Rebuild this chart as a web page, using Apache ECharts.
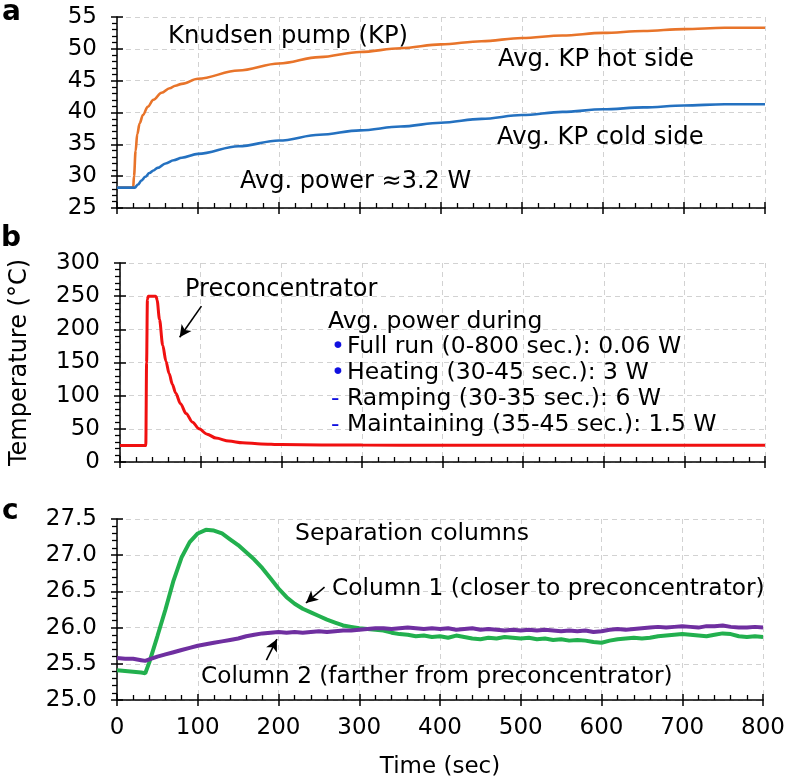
<!DOCTYPE html>
<html>
<head>
<meta charset="utf-8">
<script src="https://cdn.jsdelivr.net/npm/echarts@6/dist/echarts.min.js"></script>
<style>
html,body{margin:0;padding:0;background:#fff;}
#chart{width:788px;height:784px;}
</style>
</head>
<body>
<div id="chart"></div>
<script>
// ---- Panel a: Knudsen pump ----
var hotT  = [0,20,21,23,25,28,32,38,45,55,65,72,80,100,150,200,250,300,350,400,450,500,550,600,650,700,750,800];
var hotV  = [28.2,28.2,30.0,34.0,36.6,38.3,39.6,40.9,42.0,43.1,43.8,44.2,44.5,45.3,46.6,47.7,48.7,49.5,50.1,50.7,51.2,51.7,52.1,52.5,52.8,53.1,53.3,53.3];
var coldT = [0,22,26,30,35,40,45,50,60,70,80,100,150,200,250,300,350,400,450,500,550,600,650,700,750,800];
var coldV = [28.2,28.2,28.7,29.3,29.9,30.5,30.9,31.3,32.0,32.5,32.9,33.5,34.7,35.6,36.5,37.2,37.8,38.4,39.0,39.6,40.1,40.5,40.8,41.1,41.3,41.3];

// ---- Panel b: Preconcentrator ----
var pcT = [0,32,33,34,35,44,45,46,49,53,57,61,65,69,75,82,90,98,108,119,135,152,175,200,250,300,400,500,600,700,800];
var pcV = [25,25,150,245,250,250,249,244,215,176,152,133,117,104,88,73,60,50,42,36,31.5,29,27.3,26.4,25.8,25.5,25.3,25.2,25.2,25.2,25.2];

// ---- Panel c: Separation columns ----
var cT = [0,10,20,30,35,40,50,60,70,80,90,100,110,120,130,140,150,160,170,180,190,200,210,220,230,240,250,260,270,280,290,300,310,320,330,340,350,360,370,380,390,400,410,420,430,440,450,460,470,480,490,500,510,520,530,540,550,560,570,580,590,600,610,620,630,640,650,660,670,680,690,700,710,720,730,740,750,760,770,780,790,800];
var col1 = [25.41,25.40,25.39,25.38,25.37,25.52,25.88,26.25,26.65,26.97,27.18,27.30,27.35,27.34,27.30,27.22,27.14,27.04,26.94,26.82,26.68,26.54,26.42,26.33,26.26,26.21,26.16,26.11,26.07,26.03,26.01,25.99,25.98,25.97,25.96,25.93,25.91,25.90,25.88,25.89,25.87,25.88,25.86,25.89,25.87,25.85,25.84,25.86,25.85,25.87,25.86,25.85,25.86,25.84,25.85,25.83,25.84,25.82,25.83,25.82,25.80,25.79,25.82,25.84,25.85,25.86,25.85,25.86,25.88,25.89,25.90,25.91,25.90,25.89,25.88,25.90,25.92,25.91,25.88,25.87,25.88,25.87];
var col2 = [25.58,25.57,25.57,25.55,25.54,25.56,25.60,25.63,25.66,25.69,25.72,25.75,25.77,25.79,25.81,25.83,25.85,25.88,25.90,25.92,25.93,25.94,25.93,25.94,25.93,25.94,25.95,25.94,25.95,25.96,25.96,25.97,25.98,25.99,25.99,25.98,25.99,26.00,25.99,25.98,25.99,25.98,25.99,25.97,25.98,25.99,25.97,25.98,25.97,25.96,25.97,25.96,25.97,25.96,25.97,25.96,25.95,25.96,25.95,25.96,25.94,25.95,25.97,25.98,25.97,25.98,25.99,26.00,26.01,26.00,26.01,26.02,26.01,26.00,26.02,26.02,26.03,26.01,26.00,26.00,26.01,26.00];

// ---- Axes ----
var xTicks = {min:0, max:800, interval:100};
var yRanges = [
  {min:25, max:55, interval:5, dec:0},
  {min:0, max:300, interval:50, dec:0},
  {min:25, max:27.5, interval:0.5, dec:1}
];

var FONT = 'DejaVu Sans';
var FS = 23;

function pairs(t, v){ return t.map(function(x,i){ return [x, v[i]]; }); }

var grids = [
  {left:117, top:17, width:648, height:191},
  {left:117, top:263, width:648, height:199},
  {left:117, top:519, width:648, height:181}
];

var xAxes = [], yAxes = [];
var blk = {color:'#000', width:1.5};
grids.forEach(function(g, gi){
  xAxes.push({
    type:'value', gridIndex:gi, min:xTicks.min, max:xTicks.max, interval:xTicks.interval, position:'bottom',
    axisLine:{show:true, onZero:false, lineStyle:blk},
    axisTick:{show:true, inside:true, length:6, lineStyle:blk},
    minorTick:{show:true, splitNumber:5, length:5, lineStyle:{color:'#000', width:1.3}},
    splitLine:{show:true, lineStyle:{color:'#d2d2d2', type:[5,4], width:1}},
    axisLabel:{show: gi===2, color:'#000', fontSize:FS, fontFamily:FONT, margin:17},
    name: gi===2 ? 'Time (sec)' : '', nameLocation:'middle', nameGap:56,
    nameTextStyle:{color:'#000', fontSize:FS, fontFamily:FONT}
  });
  xAxes.push({
    type:'value', gridIndex:gi, min:xTicks.min, max:xTicks.max, interval:xTicks.interval, position:'bottom',
    axisLine:{show:false, onZero:false}, axisTick:{show:true, inside:false, length:6, lineStyle:blk},
    axisLabel:{show:false}, splitLine:{show:false}
  });
  var r = yRanges[gi];
  yAxes.push({
    type:'value', gridIndex:gi, min:r.min, max:r.max, interval:r.interval, position:'left',
    axisLine:{show:true, onZero:false, lineStyle:blk},
    axisTick:{show:true, inside:false, length:6, lineStyle:blk},
    minorTick:{show:true, splitNumber:5, length:5, lineStyle:{color:'#000', width:1.3}},
    splitLine:{show:true, lineStyle:{color:'#d2d2d2', type:[5,4], width:1}},
    axisLabel:{color:'#000', fontSize:FS, fontFamily:FONT, margin:20,
      formatter:(function(d){ return function(v){ return v.toFixed(d); }; })(r.dec)},
    name: gi===1 ? 'Temperature (°C)' : '', nameLocation:'middle', nameRotate:90, nameGap:88,
    nameTextStyle:{color:'#000', fontSize:24, fontFamily:FONT}
  });
  yAxes.push({
    type:'value', gridIndex:gi, min:r.min, max:r.max, interval:r.interval, position:'left',
    axisLine:{show:false, onZero:false}, axisTick:{show:true, inside:true, length:6, lineStyle:blk},
    axisLabel:{show:false}, splitLine:{show:false}
  });
});

function arrow(a, b){
  return {
    silent:true, animation:false, symbol:['none','arrow'], symbolSize:[9,12],
    label:{show:false}, lineStyle:{color:'#000', width:1.6, type:'solid'},
    emphasis:{disabled:true},
    data:[[{coord:a},{coord:b}]]
  };
}

var series = [
  {type:'line', name:'Avg. KP hot side', xAxisIndex:0, yAxisIndex:0, data:pairs(hotT, hotV),
   showSymbol:false, smooth:0.35, smoothMonotone:'x', lineStyle:{color:'#E8742A', width:2.6}, itemStyle:{color:'#E8742A'}},
  {type:'line', name:'Avg. KP cold side', xAxisIndex:0, yAxisIndex:0, data:pairs(coldT, coldV),
   showSymbol:false, smooth:0.35, smoothMonotone:'x', lineStyle:{color:'#2471C0', width:2.6}, itemStyle:{color:'#2471C0'}},
  {type:'line', name:'Preconcentrator', xAxisIndex:2, yAxisIndex:2, data:pairs(pcT, pcV),
   showSymbol:false, smooth:0.3, smoothMonotone:'x', lineStyle:{color:'#F01010', width:3}, itemStyle:{color:'#F01010'},
   markLine: arrow([101,235],[74,188])},
  {type:'line', name:'Column 1', xAxisIndex:4, yAxisIndex:4, data:pairs(cT, col1),
   showSymbol:false, lineStyle:{color:'#22B04E', width:4}, itemStyle:{color:'#22B04E'},
   markLine: arrow([257,26.56],[234,26.34])},
  {type:'line', name:'Column 2', xAxisIndex:4, yAxisIndex:4, data:pairs(cT, col2),
   showSymbol:false, lineStyle:{color:'#6F2FA0', width:4}, itemStyle:{color:'#6F2FA0'},
   markLine: arrow([185,25.55],[198,25.84])}
];

function txt(s, x, y, opts){
  opts = opts || {};
  return {type:'text', z:100, silent:true,
    style:{text:s, x:x, y:y, fill:opts.fill||'#000', fontSize:opts.size||23.5, fontFamily:FONT,
      fontWeight:opts.weight||'normal', verticalAlign:'middle', align:'left'}};
}

var graphics = [
  txt('a', 2, 12.5, {size:28, weight:'bold'}),
  txt('b', 1, 238.5, {size:28, weight:'bold'}),
  txt('c', 2, 511.5, {size:28, weight:'bold'}),
  txt('Knudsen pump (KP)', 168, 37, {size:24.3}),
  txt('Avg. KP hot side', 498, 60, {size:24.3}),
  txt('Avg. KP cold side', 497, 138, {size:24.3}),
  txt('Avg. power ≈3.2 W', 240, 182, {size:24}),
  txt('Preconcentrator', 185, 290, {size:24}),
  txt('Avg. power during', 328, 322),
  txt('•', 331, 347, {fill:'#1010E0'}),
  txt('Full run (0-800 sec.): 0.06 W', 347, 347),
  txt('•', 331, 373, {fill:'#1010E0'}),
  txt('Heating (30-45 sec.): 3 W', 347, 373),
  txt('-', 331, 399, {fill:'#1010E0'}),
  txt('Ramping (30-35 sec.): 6 W', 347, 399),
  txt('-', 331, 425, {fill:'#1010E0'}),
  txt('Maintaining (35-45 sec.): 1.5 W', 347, 425),
  txt('Separation columns', 295, 534),
  txt('Column 1 (closer to preconcentrator)', 332, 589, {size:23.3}),
  txt('Column 2 (farther from preconcentrator)', 201, 677, {size:23.2})
];

var chart = echarts.init(document.getElementById('chart'), null, {renderer:'canvas'});
chart.setOption({
  animation:false,
  backgroundColor:'#fff',
  grid:grids,
  xAxis:xAxes,
  yAxis:yAxes,
  series:series,
  graphic:{elements:graphics}
});
</script>
</body>
</html>
